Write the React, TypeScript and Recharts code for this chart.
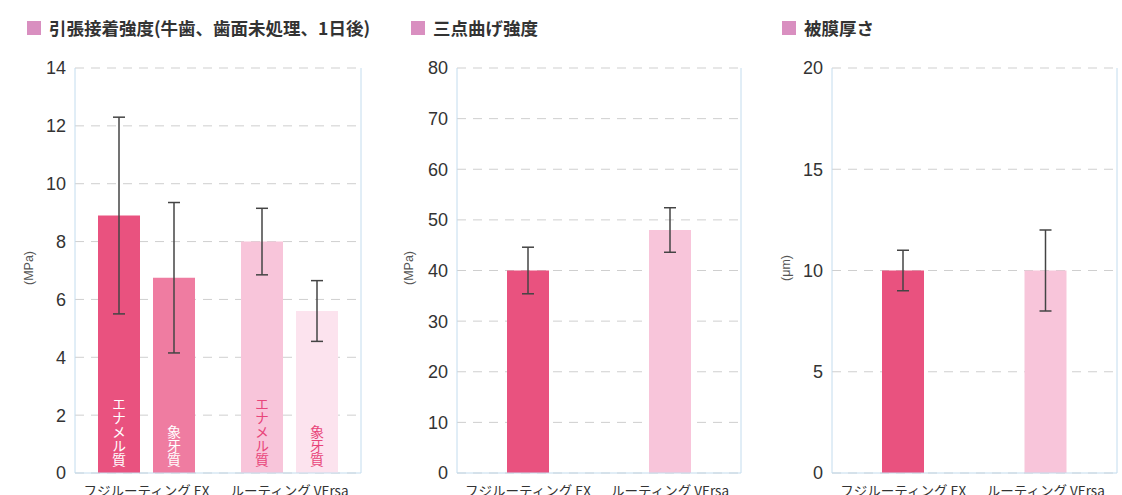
import { BarChart, Bar, XAxis, YAxis, CartesianGrid, ErrorBar, Cell, LabelList } from 'recharts';

const categories = ['フジルーティング EX', 'ルーティング VErsa'];

// 引張接着強度 (MPa)
const enamelBond = [8.9, 8.0];
const enamelBondErr = [3.4, 1.15];
const dentinBond = [6.75, 5.6];
const dentinBondErr = [2.6, 1.05];
const seriesNames = ['エナメル質', '象牙質'];

// 三点曲げ強度 (MPa)
const flexural = [40, 48];
const flexuralErr = [4.6, 4.4];

// 被膜厚さ (μm)
const film = [10, 10];
const filmErr = [1, 2];

const bondTicks = [0, 2, 4, 6, 8, 10, 12, 14];
const flexTicks = [0, 10, 20, 30, 40, 50, 60, 70, 80];
const filmTicks = [0, 5, 10, 15, 20];

const bondData = categories.map((c, i) => ({
  name: c,
  enamel: enamelBond[i],
  enamelErr: enamelBondErr[i],
  dentin: dentinBond[i],
  dentinErr: dentinBondErr[i],
  enamelLabel: seriesNames[0],
  dentinLabel: seriesNames[1],
}));
const flexData = categories.map((c, i) => ({ name: c, value: flexural[i], err: flexuralErr[i] }));
const filmData = categories.map((c, i) => ({ name: c, value: film[i], err: filmErr[i] }));

const EX_DARK = '#e9527f';
const EX_MID = '#ef7ca1';
const VE_LIGHT = '#f8c5da';
const VE_PALE = '#fce3ee';
const AXIS_BLUE = '#c3dcee';
const GRID = '#cfcfcf';
const NUM_FONT = '"Liberation Sans", Arial, sans-serif';
const JP_FONT = '"Noto Sans CJK JP", "Noto Sans", sans-serif';

const tickStyle = { fontSize: 18, fill: '#333', fontFamily: NUM_FONT };
const xTickStyle = { fontSize: 13.5, fill: '#333', fontFamily: JP_FONT };

const rightEdge = ({ offset }: any) => [offset.left + offset.width];

const verticalLabel = (color: string) => (props: any) => {
  const { x, y, width, height, value } = props;
  const cx = Number(x) + Number(width) / 2;
  const bottom = Number(y) + Number(height) - 6;
  return (
    <text
      x={cx}
      y={bottom}
      textAnchor="end"
      fontSize={14}
      fill={color}
      fontFamily={JP_FONT}
      style={{ writingMode: 'vertical-rl' as any }}
    >
      {value}
    </text>
  );
};

const unitLabel = (text: string, dx: number) => (props: any) => {
  const vb = props.viewBox || {};
  const x = (vb.x || 0) + dx;
  const y = 268;
  return (
    <text x={x} y={y} transform={`rotate(-90 ${x} ${y})`} textAnchor="middle" fontSize={12.5} fill="#555" fontFamily={NUM_FONT}>
      {text}
    </text>
  );
};

const Title = ({ left, text }: { left: number; text: string }) => (
  <div style={{ position: 'absolute', left, top: 17, display: 'flex', alignItems: 'center' }}>
    <div style={{ width: 14, height: 14, background: '#d98fc0', marginRight: 8 }} />
    <span style={{ fontFamily: JP_FONT, fontWeight: 700, fontSize: 17.5, color: '#333', lineHeight: '22px' }}>{text}</span>
  </div>
);

const H = 530;

export default function App() {
  return (
    <div style={{ position: 'absolute', left: 0, top: 0, width: 1122, height: 495, overflow: 'hidden', background: '#fff' }}>
      <Title left={27} text="引張接着強度(牛歯、歯面未処理、1日後)" />
      <Title left={411} text="三点曲げ強度" />
      <Title left={782} text="被膜厚さ" />

      <div style={{ position: 'absolute', left: 0, top: 0 }}>
        <BarChart width={370} height={H} data={bondData} margin={{ top: 68, right: 9, left: 0, bottom: 17 }} barSize={42} barGap={13}>
          <CartesianGrid vertical={false} stroke={GRID} strokeDasharray="9 7" />
          <CartesianGrid horizontal={false} stroke={AXIS_BLUE} verticalCoordinatesGenerator={rightEdge} />
          <XAxis dataKey="name" height={40} interval={0} tick={xTickStyle} tickLine={false} tickSize={0} tickMargin={13} axisLine={{ stroke: AXIS_BLUE }} />
          <YAxis width={75} domain={[0, 14]} ticks={bondTicks} tick={tickStyle} tickLine={false} tickSize={0} tickMargin={9} axisLine={{ stroke: AXIS_BLUE }} label={{ content: unitLabel('(MPa)', 33) }} />
          <Bar dataKey="enamel" isAnimationActive={false}>
            {bondData.map((d, i) => (
              <Cell key={d.name} fill={i === 0 ? EX_DARK : VE_LIGHT} />
            ))}
            <ErrorBar dataKey="enamelErr" width={6} stroke="#444" strokeWidth={1.5} />
            <LabelList dataKey="enamelLabel" content={(p: any) => verticalLabel(p.index === 0 ? '#fff' : '#e8457a')(p)} />
          </Bar>
          <Bar dataKey="dentin" isAnimationActive={false}>
            {bondData.map((d, i) => (
              <Cell key={d.name} fill={i === 0 ? EX_MID : VE_PALE} />
            ))}
            <ErrorBar dataKey="dentinErr" width={6} stroke="#444" strokeWidth={1.5} />
            <LabelList dataKey="dentinLabel" content={(p: any) => verticalLabel(p.index === 0 ? '#fff' : '#e8457a')(p)} />
          </Bar>
        </BarChart>
      </div>

      <div style={{ position: 'absolute', left: 380, top: 0 }}>
        <BarChart width={370} height={H} data={flexData} margin={{ top: 68, right: 9, left: 0, bottom: 17 }} barSize={42}>
          <CartesianGrid vertical={false} stroke={GRID} strokeDasharray="9 7" />
          <CartesianGrid horizontal={false} stroke={AXIS_BLUE} verticalCoordinatesGenerator={rightEdge} />
          <XAxis dataKey="name" height={40} interval={0} tick={xTickStyle} tickLine={false} tickSize={0} tickMargin={13} axisLine={{ stroke: AXIS_BLUE }} />
          <YAxis width={77} domain={[0, 80]} ticks={flexTicks} tick={tickStyle} tickLine={false} tickSize={0} tickMargin={9} axisLine={{ stroke: AXIS_BLUE }} label={{ content: unitLabel('(MPa)', 33) }} />
          <Bar dataKey="value" isAnimationActive={false}>
            {flexData.map((d, i) => (
              <Cell key={d.name} fill={i === 0 ? EX_DARK : VE_LIGHT} />
            ))}
            <ErrorBar dataKey="err" width={6} stroke="#444" strokeWidth={1.5} />
          </Bar>
        </BarChart>
      </div>

      <div style={{ position: 'absolute', left: 755, top: 0 }}>
        <BarChart width={367} height={H} data={filmData} margin={{ top: 68, right: 5, left: 0, bottom: 17 }} barSize={42}>
          <CartesianGrid vertical={false} stroke={GRID} strokeDasharray="9 7" />
          <CartesianGrid horizontal={false} stroke={AXIS_BLUE} verticalCoordinatesGenerator={rightEdge} />
          <XAxis dataKey="name" height={40} interval={0} tick={xTickStyle} tickLine={false} tickSize={0} tickMargin={13} axisLine={{ stroke: AXIS_BLUE }} />
          <YAxis width={77} domain={[0, 20]} ticks={filmTicks} tick={tickStyle} tickLine={false} tickSize={0} tickMargin={9} axisLine={{ stroke: AXIS_BLUE }} label={{ content: unitLabel('(μm)', 35) }} />
          <Bar dataKey="value" isAnimationActive={false}>
            {filmData.map((d, i) => (
              <Cell key={d.name} fill={i === 0 ? EX_DARK : VE_LIGHT} />
            ))}
            <ErrorBar dataKey="err" width={6} stroke="#444" strokeWidth={1.5} />
          </Bar>
        </BarChart>
      </div>
    </div>
  );
}
